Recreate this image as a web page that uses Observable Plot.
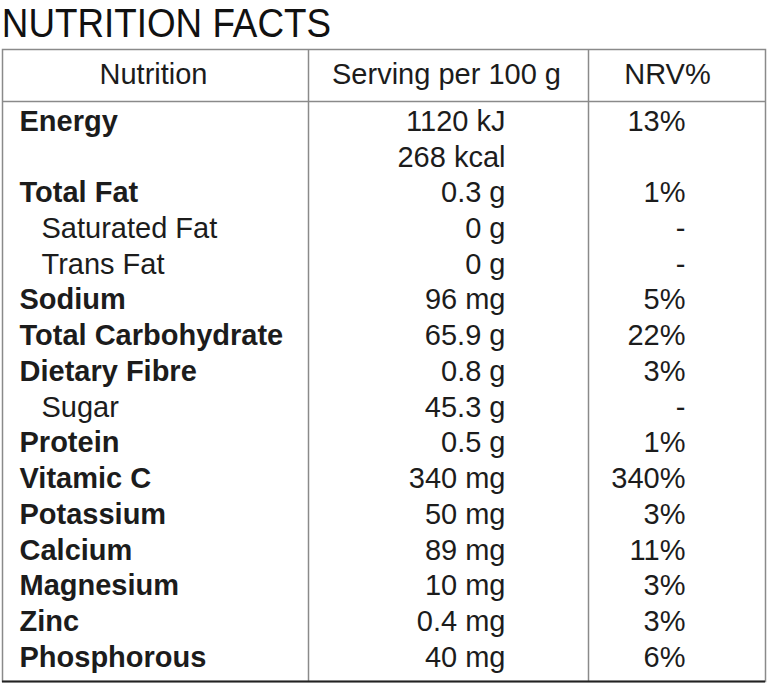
<!DOCTYPE html>
<html>
<head>
<meta charset="utf-8">
<script src="https://cdn.jsdelivr.net/npm/d3@7"></script>
<script src="https://cdn.jsdelivr.net/npm/@observablehq/plot@0.6"></script>
<style>
  html, body { margin: 0; padding: 0; background: #fff; }
  #title {
    font-family: "Liberation Sans", Arial, Helvetica, sans-serif;
    font-size: 40px; line-height: 46px; height: 48px;
    color: #111; padding-left: 2px;
    transform: scaleX(0.92); transform-origin: 0 0; white-space: nowrap;
  }
  #chart svg { display: block; }
</style>
</head>
<body>
<div id="title">NUTRITION FACTS</div>
<div id="chart"></div>
<script>
// ---- data ----
const headers = ["Nutrition", "Serving per 100 g", "NRV%"];
const nutrients = ["Energy", "", "Total Fat", "Saturated Fat", "Trans Fat", "Sodium",
  "Total Carbohydrate", "Dietary Fibre", "Sugar", "Protein", "Vitamic C",
  "Potassium", "Calcium", "Magnesium", "Zinc", "Phosphorous"];
const amounts = ["1120 kJ", "268 kcal", "0.3 g", "0 g", "0 g", "96 mg", "65.9 g",
  "0.8 g", "45.3 g", "0.5 g", "340 mg", "50 mg", "89 mg", "10 mg", "0.4 mg", "40 mg"];
const nrv = ["13%", "", "1%", "-", "-", "5%", "22%", "3%", "-", "1%", "340%",
  "3%", "11%", "3%", "3%", "6%"];
const subItems = ["Saturated Fat", "Trans Fat", "Sugar"];

// ---- layout (table geometry, in scale units) ----
const colEdges = [2, 308, 588, 765];
const headerCenters = [153, 446, 667];
const labelX = 19, subLabelX = 41, amountRight = 505, nrvRight = 685;
const headerRow = -0.315, headerLine = 0.44, topRow = -1.015, bottomRow = 16.67;

const rows = nutrients.map((n, i) => ({
  row: i + 1, label: n, amount: amounts[i], nrv: nrv[i], sub: subItems.includes(n)
}));
const headerData = headers.map((h, i) => ({h, x: headerCenters[i]}));

const font = "Liberation Sans, Arial, Helvetica, sans-serif";
const ink = "#1c1c1c";

const chart = Plot.plot({
  width: 768, height: 636,
  marginTop: 1, marginBottom: 3, marginLeft: 2, marginRight: 3,
  x: {domain: [2, 765], axis: null},
  y: {domain: [topRow, bottomRow], reverse: true, axis: null},
  style: {fontFamily: font, background: "#fff"},
  marks: [
    Plot.ruleY([headerLine], {x1: colEdges[0], x2: colEdges[3], stroke: "#8a8a8a", strokeWidth: 1.5}),
    Plot.ruleX([colEdges[1], colEdges[2]], {y1: topRow, y2: bottomRow, stroke: "#8a8a8a", strokeWidth: 1.5}),
    Plot.frame({stroke: "#8a8a8a", strokeWidth: 1.5}),
    Plot.ruleY([bottomRow], {x1: colEdges[0], x2: colEdges[3], stroke: "#222", strokeWidth: 2}),
    Plot.text(headerData, {x: "x", y: () => headerRow, text: "h", fontSize: 29, fill: ink, textAnchor: "middle"}),
    Plot.text(rows.filter(d => !d.sub), {x: () => labelX, y: "row", text: "label", fontSize: 29, fontWeight: "bold", fill: ink, textAnchor: "start"}),
    Plot.text(rows.filter(d => d.sub), {x: () => subLabelX, y: "row", text: "label", fontSize: 29, fill: ink, textAnchor: "start"}),
    Plot.text(rows, {x: () => amountRight, y: "row", text: "amount", fontSize: 29, fill: ink, textAnchor: "end"}),
    Plot.text(rows, {x: () => nrvRight, y: "row", text: "nrv", fontSize: 29, fill: ink, textAnchor: "end"})
  ]
});
document.getElementById("chart").append(chart);
</script>
</body>
</html>
